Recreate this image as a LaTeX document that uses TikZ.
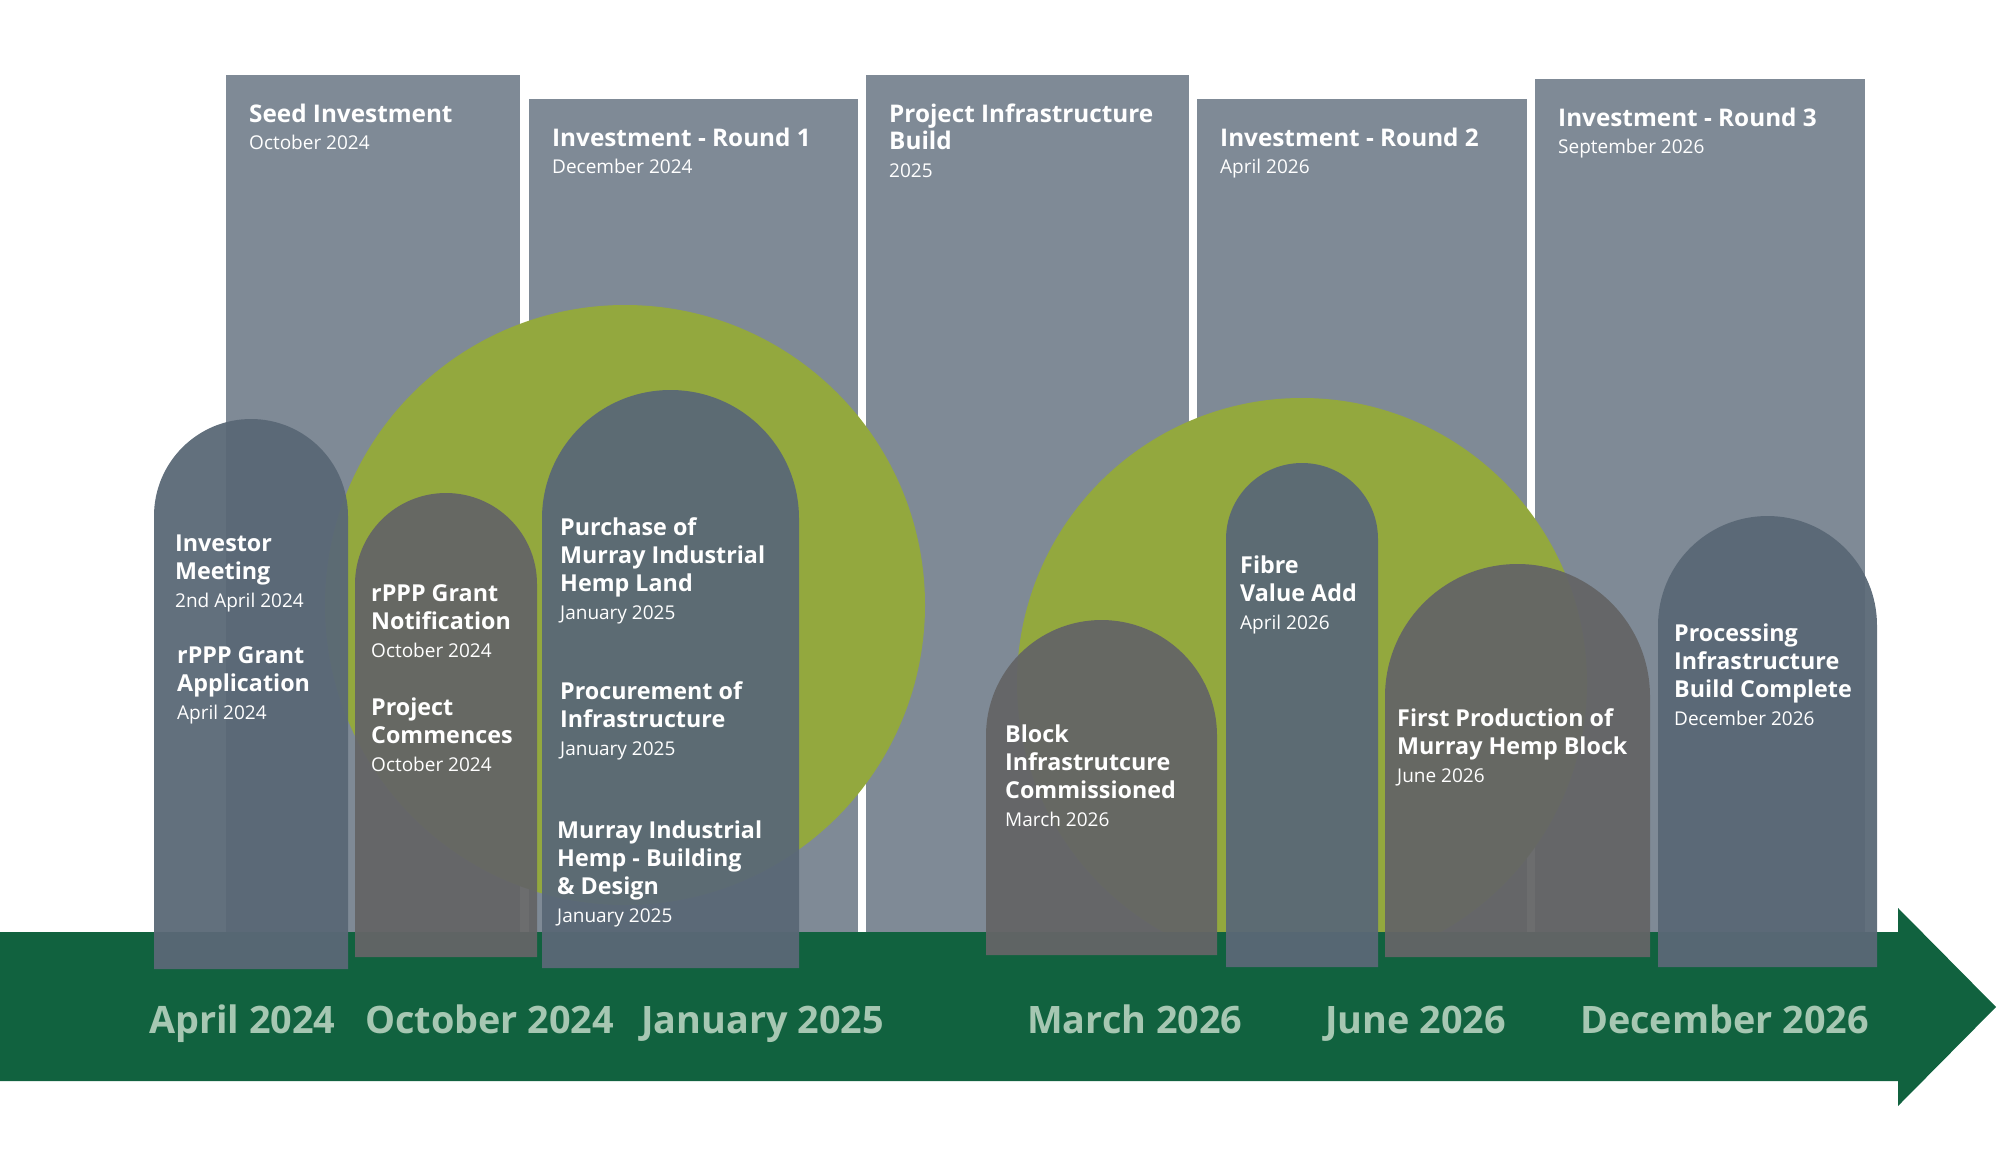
\documentclass[tikz,border=0pt]{standalone}
\usepackage{fontspec}
\setmainfont{Open Sans}
\definecolor{panelgray}{RGB}{127,138,150}
\definecolor{hempgreen}{RGB}{147,168,62}
\definecolor{slate}{RGB}{90,104,118}
\definecolor{stone}{RGB}{100,101,102}
\definecolor{forest}{RGB}{17,98,63}
\definecolor{axistext}{RGB}{166,199,178}
\tikzset{
  evt/.style={anchor=base west, inner sep=0pt, text=white, font=\fontsize{23.3}{28}\selectfont\bfseries},
  head/.style={evt, font=\fontsize{24.3}{27.5}\selectfont\bfseries},
  axislabel/.style={anchor=base west, inner sep=0pt, text=axistext, font=\fontsize{37.8}{45}\selectfont\bfseries}
}
\newcommand\when[1]{{\fontsize{19}{28}\selectfont\mdseries #1}}
\newcommand\lines[1]{\begin{tabular}[t]{@{}l@{}}#1\end{tabular}}
\begin{document}
\begin{tikzpicture}[x=1pt, y=-1pt]
\useasboundingbox (0,0) rectangle (2000,1152);
\foreach \l/\r/\t in {226/520/75, 529/858/99, 866/1189/75, 1197/1527/99, 1535/1865/79}
  \fill[panelgray] (\l,\t) rectangle (\r,932);
\fill[hempgreen] (625,605) circle[radius=300];
\fill[hempgreen] (1302,683) circle[radius=285];
\fill[forest] (0,932) -- (1898,932) -- (1898,908) -- (1996,1007) -- (1898,1106) -- (1898,1081) -- (0,1081) -- cycle;
\foreach \l/\r/\t/\b/\c in {154/348/419/969/slate, 355/537/493/957/stone, 542/799/390/968/slate,
  986/1217/620/955/stone, 1226/1378/463/967/slate, 1385/1650/564/957/stone, 1658/1877/516/967/slate}{
  \pgfmathsetmacro\rad{(\r-\l)/2}
  \fill[\c, opacity=.95] (\l,\b) -- (\l,\t+\rad) arc[start angle=180, end angle=360, radius=\rad] -- (\r,\b) -- cycle;
}
\node[head] (seed) at (249,122) {\lines{Seed Investment\\\when{October 2024}}};
\node[head] (roundone) at (552,146) {\lines{Investment - Round 1\\\when{December 2024}}};
\node[head] (infra) at (889,122) {\lines{Project Infrastructure\\Build\\\when{2025}}};
\node[head] (roundtwo) at (1220,146) {\lines{Investment - Round 2\\\when{April 2026}}};
\node[head] (roundthree) at (1558,126) {\lines{Investment - Round 3\\\when{September 2026}}};
\node[evt] (investor) at (175,551) {\lines{Investor\\Meeting\\\when{2nd April 2024}}};
\node[evt] (grantapp) at (177,663) {\lines{rPPP Grant\\Application\\\when{April 2024}}};
\node[evt] (grantnote) at (371,601) {\lines{rPPP Grant\\Notification\\\when{October 2024}}};
\node[evt] (commence) at (371,715) {\lines{Project\\Commences\\\when{October 2024}}};
\node[evt] (purchase) at (560,535) {\lines{Purchase of\\Murray Industrial\\Hemp Land\\\when{January 2025}}};
\node[evt] (procure) at (560,699) {\lines{Procurement of\\Infrastructure\\\when{January 2025}}};
\node[evt] (design) at (557,838) {\lines{Murray Industrial\\Hemp - Building\\\& Design\\\when{January 2025}}};
\node[evt] (block) at (1005,742) {\lines{Block\\Infrastrutcure\\Commissioned\\\when{March 2026}}};
\node[evt] (fibre) at (1240,573) {\lines{Fibre\\Value Add\\\when{April 2026}}};
\node[evt] (firstprod) at (1397,726) {\lines{First Production of\\Murray Hemp Block\\\when{June 2026}}};
\node[evt] (processing) at (1674,641) {\lines{Processing\\Infrastructure\\Build Complete\\\when{December 2026}}};
\node[axislabel] (apr24) at (149,1033) {April 2024};
\node[axislabel] (oct24) at (365,1033) {October 2024};
\node[axislabel] (jan25) at (641,1033) {January 2025};
\node[axislabel] (mar26) at (1027,1033) {March 2026};
\node[axislabel] (jun26) at (1325,1033) {June 2026};
\node[axislabel] (dec26) at (1580,1033) {December 2026};
\end{tikzpicture}
\end{document}
